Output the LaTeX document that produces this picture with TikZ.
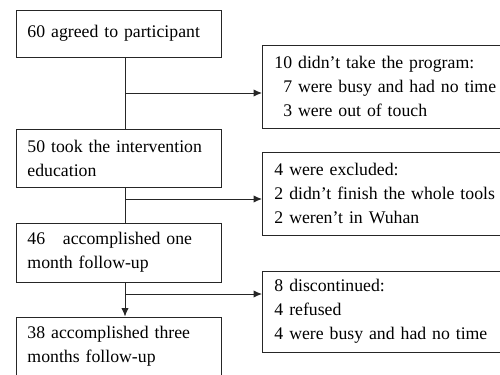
\documentclass[tikz,border=0pt]{standalone}
\usepackage{fontspec}
\setmainfont{Liberation Serif}
\usetikzlibrary{arrows.meta}

\begin{document}
\begin{tikzpicture}[x=0.02cm,y=-0.02cm,draw=black!85,line width=0.55pt,>={Latex[length=4.8pt,width=4.2pt]},font=\fontsize{10.1}{13.6}\selectfont]
    \tikzstyle{box}=[draw,rectangle,inner ysep=0pt,align=left,anchor=west]
    \tikzstyle{stagebox}=[box,inner xsep=0.22cm,text width=3.66cm]
    \tikzstyle{dropbox}=[box,inner xsep=0.24cm,text width=4.52cm]

    \useasboundingbox (0,0) rectangle (500,375);
    \clip (0,0) rectangle (500,375);

    % Draw the stages of the study
    \node[stagebox,minimum height=0.94cm] (S-1) at (16,33.5) {60 agreed to participant};
    \node[stagebox,minimum height=1.16cm] (S-2) at (16,158) {50 took the intervention\\education};
    \node[stagebox,minimum height=1.18cm] (S-3) at (16,252.5) {46\quad accomplished one\\month follow-up};
    \node[stagebox,minimum height=1.18cm] (S-4) at (16,346.5) {38 accomplished three\\months follow-up};

    % Draw the drop-outs
    \node[dropbox,minimum height=1.66cm] (D-1) at (262,86.5) {10 didn't take the program:\\\hspace{5pt}7 were busy and had no time\\\hspace{5pt}3 were out of touch};
    \node[dropbox,minimum height=1.66cm] (D-2) at (262,193.5) {4 were excluded:\\2 didn't finish the whole tools\\2 weren't in Wuhan};
    \node[dropbox,minimum height=1.62cm] (D-3) at (262,311.5) {8 discontinued:\\4 refused\\4 were busy and had no time};

    % Junctions on the main line
    \coordinate (J-1) at (125,93);
    \coordinate (J-2) at (125,199);
    \coordinate (J-3) at (125,294);

    % Connect the stages
    \draw (S-1.south -| J-1) -- (S-2.north -| J-1);
    \draw (S-2.south -| J-1) -- (S-3.north -| J-1);
    \draw[->] (S-3.south -| J-1) -- (S-4.north -| J-1);

    % Connect the main line with the drop-outs
    \foreach \n in {1,2,3}
        \draw[->] (J-\n) -- (J-\n -| D-\n.west);
\end{tikzpicture}
\end{document}
